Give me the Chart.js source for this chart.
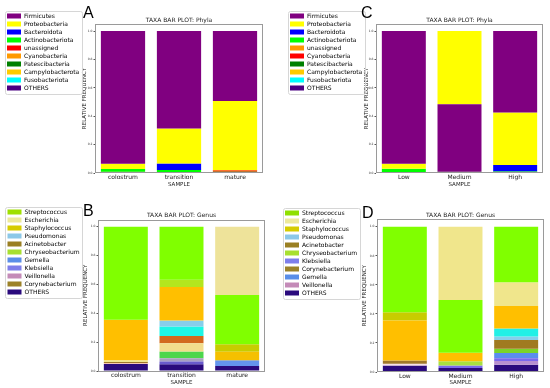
<!DOCTYPE html>
<html><head><meta charset="utf-8">
<script src="https://cdn.jsdelivr.net/npm/chart.js@4.4.0/dist/chart.umd.min.js"></script>
<style>
html,body{margin:0;padding:0;background:#fff;}
#fig{position:relative;width:550px;height:388px;overflow:hidden;background:#fff;}
canvas{position:absolute;}
.lab{position:absolute;font-family:'Liberation Sans',Arial,sans-serif;font-size:16px;line-height:16px;color:#000;}
</style></head><body>
<div id="fig">
<canvas id="cA" width="275" height="190" style="left:0px;top:0px;width:275px;height:190px"></canvas>
<canvas id="cC" width="275" height="190" style="left:275px;top:0px;width:275px;height:190px"></canvas>
<canvas id="cB" width="275" height="198" style="left:0px;top:190px;width:275px;height:198px"></canvas>
<canvas id="cD" width="275" height="198" style="left:275px;top:190px;width:275px;height:198px"></canvas>
<div class="lab" style="left:83px;top:5px">A</div>
<div class="lab" style="left:361px;top:5px">C</div>
<div class="lab" style="left:83px;top:203px">B</div>
<div class="lab" style="left:362px;top:205px">D</div>
</div>
<script>
// ---------------- DATA ----------------
const phylaTaxaA = ['Firmicutes','Proteobacteria','Bacteroidota','Actinobacteriota','unassigned','Cyanobacteria','Patescibacteria','Campylobacterota','Fusobacteriota','OTHERS'];
const phylaTaxaC = ['Firmicutes','Proteobacteria','Bacteroidota','Actinobacteriota','unassigned','Cyanobacteria','Patescibacteria','Campylobacterota','Fusobacteriota','OTHERS'];
const samplesMilk = ['colostrum','transition','mature'];
const samplesLevel = ['Low','Medium','High'];

// Panel A (phyla) relative frequency, in phylaTaxaA order
const phylaA_colostrum  = [0.935, 0.036, 0,     0.020, 0.005, 0, 0, 0, 0, 0.004];
const phylaA_transition = [0.687, 0.246, 0.045, 0.015, 0.003, 0, 0, 0, 0, 0.004];
const phylaA_mature     = [0.492, 0.488, 0,     0.003, 0.012, 0, 0, 0, 0, 0.005];
// stacking order, bottom -> top
const phylaA_orderColostrum  = ['OTHERS','unassigned','Actinobacteriota','Proteobacteria','Firmicutes'];
const phylaA_orderTransition = ['OTHERS','unassigned','Actinobacteriota','Bacteroidota','Proteobacteria','Firmicutes'];
const phylaA_orderMature     = ['OTHERS','Actinobacteriota','unassigned','Proteobacteria','Firmicutes'];

// Panel C (phyla)
const phylaC_low    = [0.935, 0.035, 0,     0.024, 0, 0.003, 0,     0, 0, 0.003];
const phylaC_medium = [0.476, 0.515, 0,     0.003, 0, 0,     0.003, 0, 0, 0.003];
const phylaC_high   = [0.574, 0.369, 0.045, 0.004, 0, 0,     0.003, 0, 0, 0.005];
const phylaC_orderLow    = ['OTHERS','Cyanobacteria','Actinobacteriota','Proteobacteria','Firmicutes'];
const phylaC_orderMedium = ['OTHERS','Patescibacteria','Actinobacteriota','Firmicutes','Proteobacteria'];
const phylaC_orderHigh   = ['OTHERS','Patescibacteria','Actinobacteriota','Bacteroidota','Proteobacteria','Firmicutes'];

// Panel B (genus)
const genusTaxaB = ['Streptococcus','Escherichia','Staphylococcus','Pseudomonas','Acinetobacter','Chryseobacterium','Gemella','Klebsiella','Veillonella','Corynebacterium','OTHERS'];
const genusB_colostrum  = [0.645, 0.009, 0.283, 0,     0,     0,     0,     0,     0.006, 0.008, 0.049];
const genusB_transition = [0.367, 0.058, 0.232, 0.042, 0.050, 0.051, 0.065, 0.019, 0.024, 0.046, 0.046];
const genusB_mature     = [0.341, 0.473, 0.058, 0,     0,     0.053, 0.040, 0,     0,     0,     0.035];
const genusB_orderColostrum  = ['OTHERS','Veillonella','Corynebacterium','Escherichia','Staphylococcus','Streptococcus'];
const genusB_orderTransition = ['OTHERS','Klebsiella','Veillonella','Corynebacterium','Escherichia','Acinetobacter','Gemella','Pseudomonas','Staphylococcus','Chryseobacterium','Streptococcus'];
const genusB_orderMature     = ['OTHERS','Gemella','Staphylococcus','Chryseobacterium','Streptococcus','Escherichia'];

// Panel D (genus)
const genusTaxaD = ['Streptococcus','Escherichia','Staphylococcus','Pseudomonas','Acinetobacter','Chryseobacterium','Klebsiella','Corynebacterium','Gemella','Veillonella','OTHERS'];
const genusD_low    = [0.588, 0,     0.274, 0,     0,     0.058, 0,     0.023, 0,     0.012, 0.045];
const genusD_medium = [0.363, 0.505, 0.058, 0,     0,     0.030, 0.016, 0,     0,     0,     0.028];
const genusD_high   = [0.382, 0.163, 0.155, 0.055, 0.060, 0.030, 0.020, 0.025, 0.035, 0.025, 0.050];
const genusD_orderLow    = ['OTHERS','Veillonella','Corynebacterium','Staphylococcus','Chryseobacterium','Streptococcus'];
const genusD_orderMedium = ['OTHERS','Klebsiella','Chryseobacterium','Staphylococcus','Streptococcus','Escherichia'];
const genusD_orderHigh   = ['OTHERS','Veillonella','Klebsiella','Gemella','Chryseobacterium','Acinetobacter','Corynebacterium','Pseudomonas','Staphylococcus','Escherichia','Streptococcus'];

// ---------------- STYLES ----------------
const legendColorsA = ['#800080','#FFFF00','#0000FF','#00FF00','#FF0000','#FF9900','#008000','#FFCC00','#00FFFF','#4B0082'];
const legendColorsC = ['#800080','#FFFF00','#0000FF','#00FF00','#FF9900','#FF0000','#008000','#FFCC00','#00FFFF','#4B0082'];
const legendColorsB = ['#9FE000','#EDE99A','#D6CC00','#8CC8E8','#9A7F22','#A8E030','#5A8EE8','#7E7EEA','#C48BB8','#9C8228','#2A0A7D'];
const legendColorsD = ['#8FE000','#EDE99A','#D6CC00','#8CC8E8','#9A7F22','#A8E030','#7E7EEA','#9C8228','#5A8EE8','#C48BB8','#2A0A7D'];
const barColorsB = {
  Streptococcus:'#80FF00', Escherichia:['#F0E68C','#F2DC8C','#EEE39A'], Staphylococcus:['#FFBF00','#FFBF00','#F5C000'],
  Pseudomonas:'#87CEEB', Acinetobacter:'#D2691E', Chryseobacterium:['#B4E61E','#B4E61E','#C8CC00'],
  Gemella:['#6495ED','#1EF5E6','#6495ED'], Klebsiella:'#6A5ACD', Veillonella:['#F5C8B4','#A8A0C0','#A8A0C0'],
  Corynebacterium:['#A0782A','#4CD64C','#A0782A'], OTHERS:'#2A0A7D'
};
const barColorsD = {
  Streptococcus:'#80FF00', Escherichia:'#F0E68C', Staphylococcus:'#FFBF00', Pseudomonas:'#22F0E6',
  Acinetobacter:'#A07A20', Chryseobacterium:['#C8CC00','#A8E040','#7CD42A'], Klebsiella:'#7B68EE',
  Corynebacterium:['#A0782A','#A0782A','#87CEEB'], Gemella:'#5B8DEF', Veillonella:['#F8E0E8','#B890D0','#B890D0'],
  OTHERS:'#2A0A7D'
};
const FONT = 'DejaVu Sans';

const framePlugin = {
  id: 'frames',
  afterDraw(chart) {
    const ctx = chart.ctx, a = chart.chartArea;
    ctx.save();
    ctx.strokeStyle = '#9a9a9a'; ctx.lineWidth = 1;
    ctx.strokeRect(Math.round(a.left) + 0.5, Math.round(a.top) + 0.5, Math.round(a.right - a.left) - 1, Math.round(a.bottom - a.top) - 1);
    const hb = chart.legend && chart.legend.legendHitBoxes;
    if (hb && hb.length) {
      const l = hb[0].left - 2.5, t = hb[0].top - 2.5;
      let r = 0; hb.forEach(h => { r = Math.max(r, h.left + h.width); });
      const last = hb[hb.length - 1];
      const b = last.top + last.height + 2.5;
      ctx.strokeStyle = '#d6d6d6';
      ctx.beginPath(); ctx.roundRect(Math.round(l) + 0.5, Math.round(t) + 0.5, Math.round(r + 2 - l), Math.round(b - t), 2); ctx.stroke();
    }
    ctx.restore();
  }
};

function buildPanel(id, p) {
  const datasets = p.taxa.map((name, ti) => ({
    label: name,
    data: p.samples.map((s, si) => {
      const vals = p.values[si], order = p.orders[si];
      const pos = order.indexOf(name);
      if (pos < 0) return null;
      let start = 0;
      for (let k = 0; k < pos; k++) start += vals[p.taxa.indexOf(order[k])];
      return [start, start + vals[ti]];
    }),
    backgroundColor: p.samples.map((s, si) => {
      const c = p.barColors[name];
      return Array.isArray(c) ? c[si] : c;
    }),
    borderWidth: 0,
    barPercentage: 0.79,
    categoryPercentage: 1,
    grouped: false
  }));
  new Chart(document.getElementById(id), {
    type: 'bar',
    data: { labels: p.samples, datasets },
    plugins: [framePlugin],
    options: {
      responsive: false, animation: false,
      layout: { padding: { left: p.padLeft, top: p.padTop, right: p.padRight, bottom: 2 } },
      plugins: {
        tooltip: { enabled: false },
        legend: {
          position: 'left', align: 'start', maxWidth: p.legendWidth,
          labels: {
            boxWidth: 14, boxHeight: 5, padding: 2, color: '#222',
            font: { family: FONT, size: 6 },
            generateLabels: (chart) => chart.data.datasets.map((ds, i) => ({
              text: ds.label, fillStyle: p.legendColors[i], strokeStyle: p.legendColors[i],
              lineWidth: 0, hidden: false, datasetIndex: i
            }))
          }
        },
        title: {
          display: true, text: p.title, fullSize: false, color: '#222',
          font: { family: FONT, size: 6, weight: 'normal' },
          padding: { top: p.titlePad, bottom: 0 }
        }
      },
      scales: {
        x: {
          grid: { display: false, drawTicks: false }, border: { display: false },
          ticks: { color: '#222', font: { family: FONT, size: 6 }, padding: 1, maxRotation: 0, autoSkip: false },
          title: { display: true, text: 'SAMPLE', color: '#222', font: { family: FONT, size: 5.5 }, padding: 0 },
          afterFit: (s) => { s.height = p.xHeight; }
        },
        y: {
          min: 0, max: 1.05,
          grid: { drawOnChartArea: false, drawTicks: true, tickLength: 1.5, color: '#555' },
          border: { display: false },
          ticks: { stepSize: 0.2, includeBounds: false, color: '#333', font: { family: FONT, size: 3 }, padding: 1,
                   callback: (v) => Number(v).toFixed(1) },
          title: { display: true, text: 'RELATIVE FREQUENCY', color: '#222', font: { family: FONT, size: 5.5 }, padding: 0 },
          afterFit: (s) => {
            const lg = s.chart.legend;
            s.width = p.areaLeft - p.padLeft - (lg ? lg.width : 0);
          }
        }
      }
    }
  });
}

const phylaBarA = {}; phylaTaxaA.forEach((t, i) => { phylaBarA[t] = legendColorsA[i]; });
const phylaBarC = {}; phylaTaxaC.forEach((t, i) => { phylaBarC[t] = legendColorsC[i]; });

buildPanel('cA', {
  taxa: phylaTaxaA, samples: samplesMilk, title: 'TAXA BAR PLOT: Phyla',
  values: [phylaA_colostrum, phylaA_transition, phylaA_mature],
  orders: [phylaA_orderColostrum, phylaA_orderTransition, phylaA_orderMature],
  legendColors: legendColorsA, barColors: phylaBarA,
  padLeft: 5, padTop: 11, padRight: 12, titlePad: 5.8, xHeight: 15, areaLeft: 95, legendWidth: 76.7
});
buildPanel('cC', {
  taxa: phylaTaxaC, samples: samplesLevel, title: 'TAXA BAR PLOT: Phyla',
  values: [phylaC_low, phylaC_medium, phylaC_high],
  orders: [phylaC_orderLow, phylaC_orderMedium, phylaC_orderHigh],
  legendColors: legendColorsC, barColors: phylaBarC,
  padLeft: 13, padTop: 11, padRight: 7, titlePad: 5.8, xHeight: 15, areaLeft: 101, legendWidth: 75.7
});
buildPanel('cB', {
  taxa: genusTaxaB, samples: samplesMilk, title: 'TAXA BAR PLOT: Genus',
  values: [genusB_colostrum, genusB_transition, genusB_mature],
  orders: [genusB_orderColostrum, genusB_orderTransition, genusB_orderMature],
  legendColors: legendColorsB, barColors: barColorsB,
  padLeft: 5.5, padTop: 17, padRight: 10, titlePad: 5.3, xHeight: 15, areaLeft: 98, legendWidth: 77.2
});
buildPanel('cD', {
  taxa: genusTaxaD, samples: samplesLevel, title: 'TAXA BAR PLOT: Genus',
  values: [genusD_low, genusD_medium, genusD_high],
  orders: [genusD_orderLow, genusD_orderMedium, genusD_orderHigh],
  legendColors: legendColorsD, barColors: barColorsD,
  padLeft: 8, padTop: 18, padRight: 6, titlePad: 4.25, xHeight: 14, areaLeft: 102, legendWidth: 78
});
</script>
</body></html>
